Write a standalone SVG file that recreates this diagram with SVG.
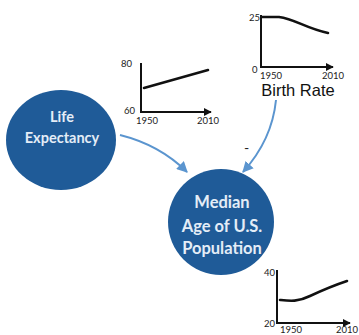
<svg xmlns="http://www.w3.org/2000/svg" width="359" height="335" viewBox="0 0 359 335">
<defs>
<style>
.node{fill:#1f5b98}
.nt{fill:#e4edf7;font-family:Lato,"Open Sans",sans-serif;font-weight:bold;text-anchor:middle}
.ax{fill:none;stroke:#111;stroke-width:2}
.cv{fill:none;stroke:#111;stroke-width:2.6;stroke-linecap:round}
.lb{fill:#222;font-family:Lato,"Liberation Sans",sans-serif;font-size:9.5px}
.conn{fill:none;stroke:#5b95cf;stroke-width:2}
</style>
<marker id="ah" viewBox="0 0 10 10" refX="9" refY="5" markerWidth="5.5" markerHeight="5.5" orient="auto" markerUnits="strokeWidth">
<path d="M0,0 L10,5 L0,10 Z" fill="#5b95cf"/>
</marker>
<marker id="ax" viewBox="0 0 10 10" refX="9" refY="5" markerWidth="4" markerHeight="4" orient="auto" markerUnits="strokeWidth">
<path d="M0,0 L10,5 L0,10 Z" fill="#111"/>
</marker>
</defs>
<rect width="359" height="335" fill="#ffffff"/>
<g id="connectors">
<path class="conn" d="M120,135 Q160,145 187,172" marker-end="url(#ah)"/>
<path class="conn" d="M276,100 Q272,140 243,172" marker-end="url(#ah)"/>
<text x="244" y="153" fill="#222" font-family="Lato,sans-serif" font-size="14">-</text>
</g>
<g id="life-expectancy">
<ellipse class="node" cx="61" cy="140" rx="55" ry="50"/>
<text class="nt" x="62" y="122" font-size="14.5">Life</text>
<text class="nt" x="62" y="143" font-size="14.5">Expectancy</text>
</g>
<g id="median-age">
<circle class="node" cx="221" cy="222" r="53"/>
<text class="nt" x="222" y="208" font-size="16.5">Median</text>
<text class="nt" x="222" y="232" font-size="16.5">Age of U.S.</text>
<text class="nt" x="222" y="254" font-size="16.5">Population</text>
</g>
<g id="chart-life">
<path class="ax" d="M141,63 L141,112 L211,112" marker-end="url(#ax)"/>
<path class="cv" d="M144,88 L208,70"/>
<text class="lb" x="121" y="67">80</text>
<text class="lb" x="124" y="114">60</text>
<text class="lb" x="136" y="124">1950</text>
<text class="lb" x="197" y="124">2010</text>
</g>
<g id="chart-birth">
<path class="ax" d="M261,15 L261,67 L333,67" marker-end="url(#ax)"/>
<path class="cv" d="M262,17 L279,17 C295,19 305,28 328,33"/>
<text class="lb" x="249" y="21">25</text>
<text class="lb" x="252" y="73">0</text>
<text class="lb" x="260" y="79">1950</text>
<text class="lb" x="322" y="79">2010</text>
<text x="298" y="96" font-family="'Liberation Sans',Arial,sans-serif" font-size="16.5" fill="#111" text-anchor="middle">Birth Rate</text>
</g>
<g id="chart-median">
<path class="ax" d="M277,270 L277,323 L350,323" marker-end="url(#ax)"/>
<path class="cv" d="M280,300 C290,301 298,302 310,296 C325,289 335,285 347,281"/>
<text class="lb" x="264" y="276">40</text>
<text class="lb" x="264" y="327">20</text>
<text class="lb" x="280" y="333">1950</text>
<text class="lb" x="336" y="333">2010</text>
</g>
</svg>
